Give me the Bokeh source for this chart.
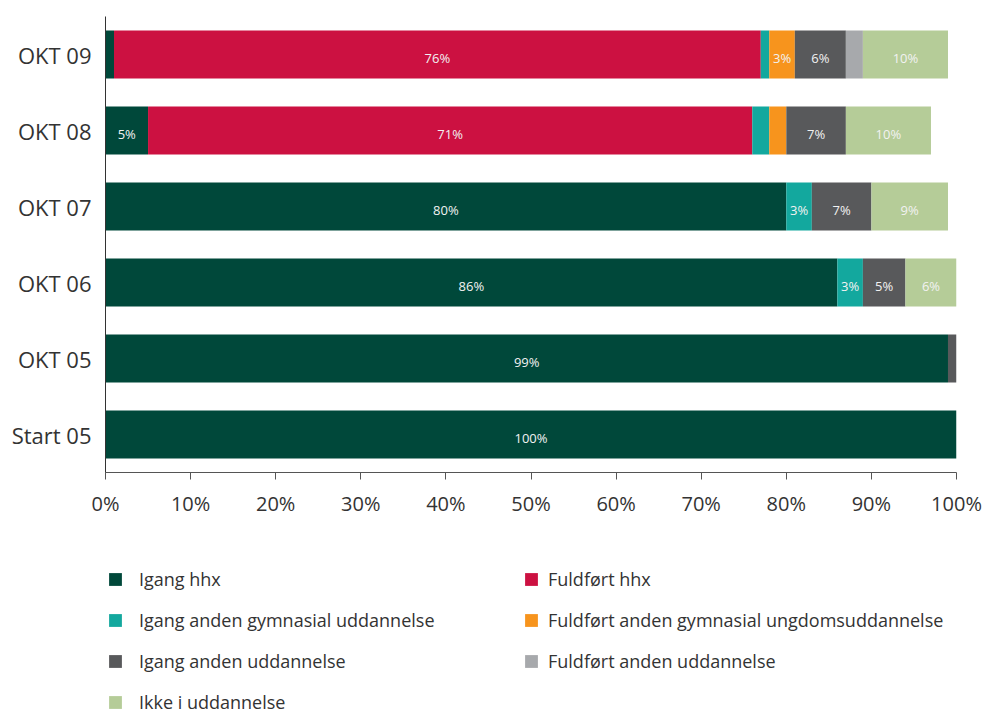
from bokeh.plotting import figure
from bokeh.layouts import column
from bokeh.models import (ColumnDataSource, FactorRange, Range1d, FixedTicker,
                          PrintfTickFormatter, Legend, LegendItem)
from bokeh.core.properties import value
from bokeh.embed import file_html
from bokeh.resources import INLINE

# ---- data (bottom to top) ----
categories = ["Start 05", "OKT 05", "OKT 06", "OKT 07", "OKT 08", "OKT 09"]
series_names = ["Igang hhx", "Fuldført hhx", "Igang anden gymnasial uddannelse",
                "Fuldført anden gymnasial ungdomsuddannelse", "Igang anden uddannelse",
                "Fuldført anden uddannelse", "Ikke i uddannelse"]
igang_hhx = [100, 99, 86, 80, 5, 1]
fuldfort_hhx = [0, 0, 0, 0, 71, 76]
igang_gym = [0, 0, 3, 3, 2, 1]
fuldfort_gym = [0, 0, 0, 0, 2, 3]
igang_udd = [0, 1, 5, 7, 7, 6]
fuldfort_udd = [0, 0, 0, 0, 0, 2]
ikke_udd = [0, 0, 6, 9, 10, 10]
x_ticks = [0, 10, 20, 30, 40, 50, 60, 70, 80, 90, 100]

colors = ["#00483A", "#CC1141", "#13A89E", "#F7941D", "#58595B", "#A7A9AC", "#B5CC98"]
series = [igang_hhx, fuldfort_hhx, igang_gym, fuldfort_gym, igang_udd, fuldfort_udd, ikke_udd]
keys = ["s%d" % i for i in range(len(series))]

data = {"cat": categories}
for k, s in zip(keys, series):
    data[k] = s
source = ColumnDataSource(data)

FONT = "Open Sans"
p = figure(width=984, height=522, y_range=FactorRange(*categories),
           x_range=Range1d(0, 100), output_backend="svg", toolbar_location=None,
           min_border_left=105, min_border_right=28, min_border_top=16,
           min_border_bottom=50)
p.outline_line_color = None
p.xgrid.visible = False
p.ygrid.visible = False

p.hbar_stack(keys, y="cat", height=0.63, color=colors, source=source, line_color=None)

# labels
lx, ly, lt = [], [], []
for i, cat in enumerate(categories):
    left = 0
    for s in series:
        v = s[i]
        if v >= 3:
            lx.append(left + v / 2)
            ly.append(cat)
            lt.append("%d%%" % v)
        left += v
p.text(x=lx, y=ly, text=lt, text_align="center", text_baseline="middle",
       text_font=value(FONT), text_font_size="13px", text_color="#f2f2f2", y_offset=3)

# axes
p.xaxis.ticker = FixedTicker(ticks=x_ticks)
p.xaxis.formatter = PrintfTickFormatter(format="%d%%")
p.xaxis.major_tick_out = 7
p.xaxis.major_tick_in = 0
p.xaxis.minor_tick_out = 0
p.xaxis.minor_tick_in = 0
p.xaxis.axis_line_color = "#555555"
p.xaxis.major_tick_line_color = "#555555"
p.xaxis.major_label_text_font = FONT
p.xaxis.major_label_text_font_size = "20px"
p.xaxis.major_label_text_color = "#333333"
p.xaxis.major_label_standoff = 10

p.yaxis.major_tick_out = 0
p.yaxis.major_tick_in = 0
p.yaxis.minor_tick_out = 0
p.yaxis.axis_line_color = "#333333"
p.yaxis.major_label_text_font = FONT
p.yaxis.major_label_text_font_size = "22px"
p.yaxis.major_label_text_color = "#333333"
p.yaxis.major_label_standoff = 14

# ---- legend figure (its renderers are hidden; only the legend shows) ----
p2 = figure(width=984, height=196, x_range=Range1d(0, 100),
            y_range=FactorRange(*categories),
            output_backend="svg", toolbar_location=None,
            min_border_left=0, min_border_right=0, min_border_top=0, min_border_bottom=0)
p2.axis.visible = False
p2.xgrid.visible = False
p2.ygrid.visible = False
p2.outline_line_color = None

legend_renderers = p2.hbar_stack(keys, y="cat", height=0.63, color=colors,
                                 source=source, line_color=None)
items = []
for name, r in zip(series_names, legend_renderers):
    r.visible = False
    items.append(LegendItem(label=name, renderers=[r]))


def make_legend(its, loc, standoff):
    leg = Legend(items=its, location=loc, orientation="vertical")
    leg.padding = 0
    leg.margin = 0
    leg.spacing = 15
    leg.glyph_width = 16
    leg.glyph_height = 16
    leg.label_height = 26
    leg.label_standoff = standoff
    leg.label_text_font = FONT
    leg.label_text_font_size = "18px"
    leg.label_text_color = "#333333"
    leg.border_line_alpha = 0
    leg.background_fill_alpha = 0
    leg.click_policy = "none"
    return leg


p2.add_layout(make_legend([items[0], items[2], items[4], items[6]], (2, 3), 16), "center")
p2.add_layout(make_legend([items[1], items[3], items[5]], (418, 44), 9), "center")

layout = column(p, p2, spacing=0)
open("out.html", "w").write(file_html(layout, INLINE))
